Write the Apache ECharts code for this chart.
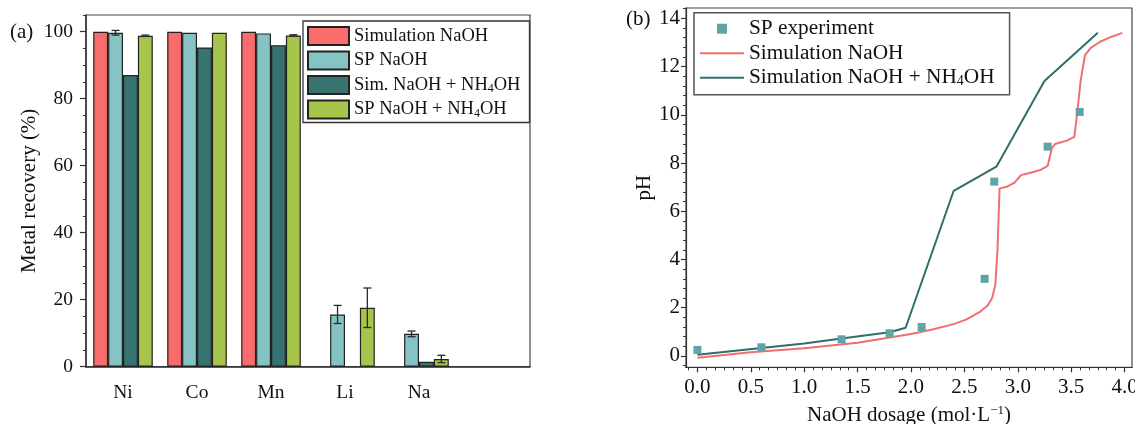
<!DOCTYPE html>
<html>
<head>
<meta charset="utf-8">
<script src="https://cdn.jsdelivr.net/npm/echarts@6/dist/echarts.min.js"></script>
<style>
html,body{margin:0;padding:0;background:#fff;}
#c{width:1135px;height:424px;}
</style>
</head>
<body>
<div id="c"></div>
<script>
// ---------- Panel (a) data ----------
const categories = ['Ni', 'Co', 'Mn', 'Li', 'Na', ''];
const simNaOH      = [100, 100, 100, null, null, null];
const spNaOH       = [99.7, 99.7, 99.5, 15.6, 9.8, null];
const spNaOHErr    = [0.7, 0, 0, 2.7, 0.85, 0];
const simNaOHNH4   = [87.1, 95.3, 96.0, null, 1.5, null];
const spNaOHNH4    = [98.8, 99.7, 98.9, 17.6, 2.3, null];
const spNaOHNH4Err = [0.2, 0, 0.2, 5.9, 1.1, 0];
const recoveryTicks = [0, 20, 40, 60, 80, 100];
const recoveryMinorTicks = [0,5,10,15,20,25,30,35,40,45,50,55,60,65,70,75,80,85,90,95,100,105];

// ---------- Panel (b) data ----------
const expDosage = [0, 0.6, 1.35, 1.8, 2.1, 2.69, 2.78, 3.28, 3.58];
const expPH     = [0.25, 0.36, 0.69, 0.94, 1.2, 3.2, 7.23, 8.68, 10.12];

const simNaOHDosage = [0, 0.5, 1.0, 1.5, 2.0, 2.2, 2.4, 2.52, 2.65, 2.72, 2.76, 2.79, 2.81, 2.83, 2.9, 2.97, 3.03, 3.12, 3.21, 3.28, 3.32, 3.35, 3.46, 3.53, 3.556, 3.59, 3.63, 3.68, 3.77, 3.88, 3.98];
const simNaOHPH     = [-0.07, 0.15, 0.32, 0.55, 0.91, 1.1, 1.32, 1.52, 1.84, 2.1, 2.4, 2.95, 4.4, 6.95, 7.02, 7.19, 7.5, 7.6, 7.71, 7.88, 8.62, 8.79, 8.93, 9.09, 10.06, 11.44, 12.48, 12.76, 13.03, 13.24, 13.4];

const simNH4Dosage = [0, 0.6, 1.0, 1.35, 1.8, 1.95, 2.4, 2.8, 3.25, 3.75];
const simNH4PH     = [0.05, 0.33, 0.52, 0.72, 0.98, 1.17, 6.85, 7.85, 11.4, 13.4];

const phTicks = [0, 2, 4, 6, 8, 10, 12, 14];
const phMinorTicks = [-0.4,0,0.4,0.8,1.2,1.6,2,2.4,2.8,3.2,3.6,4,4.4,4.8,5.2,5.6,6,6.4,6.8,7.2,7.6,8,8.4,8.8,9.2,9.6,10,10.4,10.8,11.2,11.6,12,12.4,12.8,13.2,13.6,14,14.4];
const dosageTicks = [0, 0.5, 1.0, 1.5, 2.0, 2.5, 3.0, 3.5, 4.0];
const dosageMinorTicks = [];
for (let k = -1; k <= 48; k++) dosageMinorTicks.push(+(k / 12).toFixed(4));

// ---------- styling ----------
const FONT = 'Liberation Serif';
const INK = '#111';
const AXIS = '#333';
const C_RED = '#f86c6b', C_LTEAL = '#86c3c4', C_DTEAL = '#377371', C_GREEN = '#a7c54a';
const L_RED = '#f26e6e', L_TEAL = '#2f6e6b', C_SQ = '#5fa4a9';
const BAR_GAP = 0.195;
const LINE_ICON = 'path://M0,0L44,0L44,2L0,2Z';

const zip = (a, b) => a.map((v, i) => [v, b[i]]);

function errData(vals, errs, slot) {
  const out = [];
  vals.forEach((v, i) => { if (v != null && errs[i] > 0) out.push([i, v, errs[i], slot]); });
  return out;
}

function renderErr(params, api) {
  const i = api.value(0), v = api.value(1), e = api.value(2), slot = api.value(3);
  const band = api.size([1, 0])[0];
  const bw = band * (1 - BAR_GAP) / 4;
  const cx = api.coord([i, v])[0] + (slot - 1.5) * bw;
  const yt = api.coord([i, v + e])[1];
  const yb = api.coord([i, v - e])[1];
  const cap = 4;
  const style = { stroke: '#2a2a2a', lineWidth: 1.3 };
  return {
    type: 'group',
    children: [
      { type: 'line', shape: { x1: cx, y1: yt, x2: cx, y2: yb }, style },
      { type: 'line', shape: { x1: cx - cap, y1: yt, x2: cx + cap, y2: yt }, style },
      { type: 'line', shape: { x1: cx - cap, y1: yb, x2: cx + cap, y2: yb }, style }
    ]
  };
}

const subFmt = n => n.replace('NH4OH', 'NH{s|4}OH');
const barBorder = { borderColor: '#222', borderWidth: 1.2 };

const option = {
  animation: false,
  backgroundColor: '#fff',
  textStyle: { fontFamily: FONT, color: INK },
  grid: [
    { left: 86, top: 15, width: 444, height: 351.7, containLabel: false, outerBoundsMode: 'none',
      show: true, borderColor: '#444', borderWidth: 1.2, backgroundColor: 'transparent' },
    { left: 686, top: 8, width: 446, height: 359.3, containLabel: false, outerBoundsMode: 'none',
      show: true, borderColor: '#444', borderWidth: 1.2, backgroundColor: 'transparent' }
  ],
  graphic: [
    { type: 'text', left: 10, top: 22, style: { text: '(a)', font: '21px "Liberation Serif"', fill: INK } },
    { type: 'text', left: 626, top: 9, style: { text: '(b)', font: '21px "Liberation Serif"', fill: INK } }
  ],
  legend: [
    {
      data: ['Simulation NaOH', 'SP NaOH', 'Sim. NaOH + NH4OH', 'SP NaOH + NH4OH'].map(n => ({ name: n, icon: 'rect' })),
      orient: 'vertical', left: 303, top: 21,
      itemWidth: 41, itemHeight: 18, itemGap: 4.5,
      padding: [5, 9, 3, 4],
      borderColor: '#333', borderWidth: 1.3,
      formatter: subFmt,
      selectedMode: false,
      textStyle: { fontFamily: FONT, fontSize: 18.5, color: INK, lineHeight: 20,
        rich: { s: { fontFamily: FONT, fontSize: 12, lineHeight: 12, verticalAlign: 'bottom', color: INK } } }
    },
    {
      data: [
        { name: 'SP experiment', icon: 'path://M0,0L10,0L10,10L0,10Z' },
        { name: 'Simulation NaOH ', icon: LINE_ICON },
        { name: 'Simulation NaOH + NH4OH', icon: LINE_ICON }
      ],
      orient: 'vertical', left: 694, top: 12.7,
      itemWidth: 44, itemHeight: 10, itemGap: 2.5,
      padding: [5, 15, 6, 6],
      borderColor: '#555', borderWidth: 1.5,
      symbolKeepAspect: true,
      formatter: subFmt,
      selectedMode: false,
      textStyle: { fontFamily: FONT, fontSize: 21.3, color: INK, lineHeight: 22,
        rich: { s: { fontFamily: FONT, fontSize: 14, lineHeight: 14, verticalAlign: 'bottom', color: INK } } }
    }
  ],
  xAxis: [
    {
      type: 'category', gridIndex: 0, position: 'bottom', data: categories, boundaryGap: true,
      axisLine: { lineStyle: { color: AXIS, width: 1.5 } },
      axisTick: { alignWithLabel: true, inside: false, length: 6, lineStyle: { color: AXIS, width: 1.2 } },
      axisLabel: { fontFamily: FONT, fontSize: 19.5, color: INK, margin: 16 },
      splitLine: { show: false }
    },
    {
      type: 'value', gridIndex: 1, position: 'bottom', min: -0.107, max: 4.07,
      name: 'NaOH dosage (mol·L{p|−1})', nameLocation: 'middle', nameGap: 37,
      nameTextStyle: { fontFamily: FONT, fontSize: 21, color: INK, lineHeight: 22,
        rich: { p: { fontFamily: FONT, fontSize: 13, lineHeight: 13, verticalAlign: 'top', color: INK } } },
      axisLine: { onZero: false, lineStyle: { color: AXIS, width: 1.2 } },
      axisTick: { customValues: dosageTicks, length: 5, lineStyle: { color: AXIS, width: 1.2 } },
      axisLabel: { customValues: dosageTicks, formatter: v => v.toFixed(1), fontFamily: FONT, fontSize: 21, color: INK, margin: 10 },
      splitLine: { show: false }
    },
    {
      type: 'value', gridIndex: 1, position: 'bottom', offset: 0, min: -0.107, max: 4.07,
      axisLine: { show: false, onZero: false },
      axisTick: { customValues: dosageMinorTicks, length: 3, lineStyle: { color: AXIS, width: 1 } },
      axisLabel: { show: false },
      splitLine: { show: false }
    }
  ],
  yAxis: [
    {
      type: 'value', gridIndex: 0, position: 'left', min: 0, max: 105,
      name: 'Metal recovery (%)', nameLocation: 'middle', nameGap: 46,
      nameTextStyle: { fontFamily: FONT, fontSize: 21, color: INK },
      axisLine: { show: true, lineStyle: { color: AXIS, width: 1.5 } },
      axisTick: { show: true, customValues: recoveryTicks, length: 6, lineStyle: { color: AXIS, width: 1.2 } },
      axisLabel: { customValues: recoveryTicks, fontFamily: FONT, fontSize: 19.5, color: INK, margin: 13 },
      splitLine: { show: false }
    },
    {
      type: 'value', gridIndex: 0, position: 'left', offset: 0, min: 0, max: 105,
      axisLine: { show: false, onZero: false },
      axisTick: { show: true, customValues: recoveryMinorTicks, length: 3, lineStyle: { color: AXIS, width: 1 } },
      axisLabel: { show: false },
      splitLine: { show: false }
    },
    {
      type: 'value', gridIndex: 1, position: 'left', min: -0.47, max: 14.43,
      name: 'pH', nameLocation: 'middle', nameGap: 30,
      nameTextStyle: { fontFamily: FONT, fontSize: 21, color: INK },
      axisLine: { show: true, onZero: false, lineStyle: { color: AXIS, width: 1.2 } },
      axisTick: { show: true, customValues: phTicks, length: 5, lineStyle: { color: AXIS, width: 1.2 } },
      axisLabel: { customValues: phTicks, fontFamily: FONT, fontSize: 21, color: INK, margin: 6 },
      splitLine: { show: false }
    },
    {
      type: 'value', gridIndex: 1, position: 'left', offset: 0, min: -0.47, max: 14.43,
      axisLine: { show: false, onZero: false },
      axisTick: { show: true, customValues: phMinorTicks, length: 3, lineStyle: { color: AXIS, width: 1 } },
      axisLabel: { show: false },
      splitLine: { show: false }
    }
  ],
  series: [
    { name: 'Simulation NaOH', type: 'bar', xAxisIndex: 0, yAxisIndex: 0, data: simNaOH,
      barGap: '0%', barCategoryGap: (BAR_GAP * 100) + '%', itemStyle: Object.assign({ color: C_RED }, barBorder) },
    { name: 'SP NaOH', type: 'bar', xAxisIndex: 0, yAxisIndex: 0, data: spNaOH,
      barGap: '0%', barCategoryGap: (BAR_GAP * 100) + '%', itemStyle: Object.assign({ color: C_LTEAL }, barBorder) },
    { name: 'Sim. NaOH + NH4OH', type: 'bar', xAxisIndex: 0, yAxisIndex: 0, data: simNaOHNH4,
      barGap: '0%', barCategoryGap: (BAR_GAP * 100) + '%', itemStyle: Object.assign({ color: C_DTEAL }, barBorder) },
    { name: 'SP NaOH + NH4OH', type: 'bar', xAxisIndex: 0, yAxisIndex: 0, data: spNaOHNH4,
      barGap: '0%', barCategoryGap: (BAR_GAP * 100) + '%', itemStyle: Object.assign({ color: C_GREEN }, barBorder) },
    { name: 'errSP', type: 'custom', xAxisIndex: 0, yAxisIndex: 0, z: 5,
      renderItem: renderErr, encode: { x: 0, y: 1 },
      data: errData(spNaOH, spNaOHErr, 1) },
    { name: 'errSPNH4', type: 'custom', xAxisIndex: 0, yAxisIndex: 0, z: 5,
      renderItem: renderErr, encode: { x: 0, y: 1 },
      data: errData(spNaOHNH4, spNaOHNH4Err, 3) },

    { name: 'Simulation NaOH ', type: 'line', xAxisIndex: 1, yAxisIndex: 2,
      data: zip(simNaOHDosage, simNaOHPH), symbol: 'none', showSymbol: false,
      lineStyle: { color: L_RED, width: 2 }, itemStyle: { color: L_RED }, z: 3 },
    { name: 'Simulation NaOH + NH4OH', type: 'line', xAxisIndex: 1, yAxisIndex: 2,
      data: zip(simNH4Dosage, simNH4PH), symbol: 'none', showSymbol: false,
      lineStyle: { color: L_TEAL, width: 2 }, itemStyle: { color: L_TEAL }, z: 3 },
    { name: 'SP experiment', type: 'scatter', xAxisIndex: 1, yAxisIndex: 2,
      data: zip(expDosage, expPH), symbol: 'rect', symbolSize: 8,
      itemStyle: { color: C_SQ, opacity: 1 }, z: 4 }
  ]
};

const chart = echarts.init(document.getElementById('c'), null, { renderer: 'canvas' });
chart.setOption(option);
</script>
</body>
</html>
